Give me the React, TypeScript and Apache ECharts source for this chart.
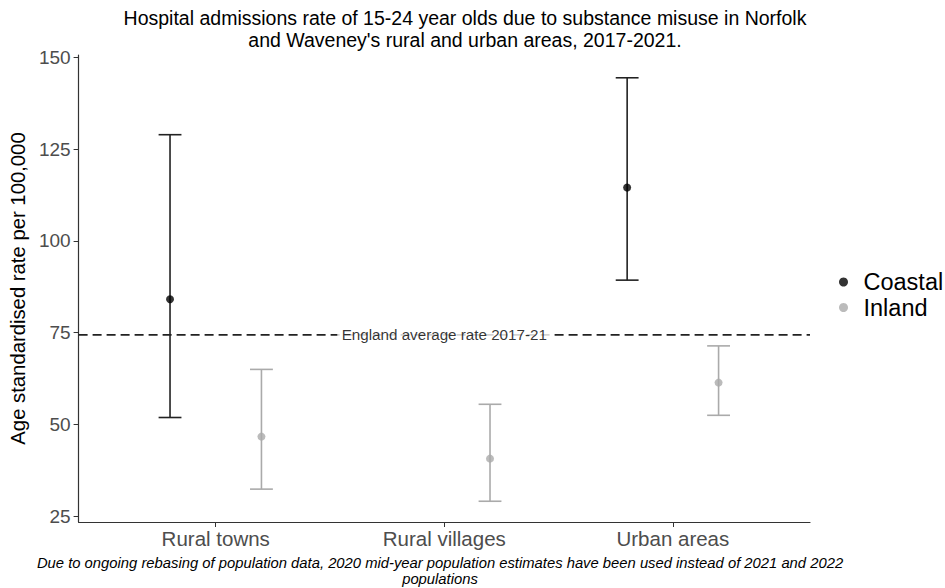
import React, { useEffect, useRef } from "react";
import * as echarts from "echarts";

// Categories and rates (age standardised per 100,000) with 95% confidence limits
const categories = ["Rural towns", "Rural villages", "Urban areas"];
const coastalRate: (number | null)[] = [84.1, null, 114.5];
const coastalLower: (number | null)[] = [51.9, null, 89.3];
const coastalUpper: (number | null)[] = [128.9, null, 144.4];
const inlandRate: number[] = [46.7, 40.7, 61.4];
const inlandLower: number[] = [32.4, 29.1, 52.5];
const inlandUpper: number[] = [65.0, 55.5, 71.4];
const englandAverage = 74.4;
const yTicks = [25, 50, 75, 100, 125, 150];

const FONT = "'Liberation Sans', Arial, sans-serif";
const DODGE = 0.2;
const CAP = 0.1;
const COASTAL = "#000000";
const COASTAL_BAR = "#222222";
const INLAND = "#aaaaaa";

function errorData(lower: (number | null)[], upper: (number | null)[], shift: number) {
  const out: number[][] = [];
  lower.forEach((lo, i) => {
    const hi = upper[i];
    if (lo != null && hi != null) out.push([i + 1 + shift, lo, hi]);
  });
  return out;
}

function pointData(rate: (number | null)[], shift: number) {
  const out: number[][] = [];
  rate.forEach((v, i) => {
    if (v != null) out.push([i + 1 + shift, v]);
  });
  return out;
}

function errorSeries(data: number[][], color: string) {
  return {
    type: "custom",
    silent: true,
    z: 3,
    data,
    encode: { x: 0, y: [1, 2] },
    renderItem: (_params: any, api: any) => {
      const x = api.value(0);
      const lo = api.value(1);
      const hi = api.value(2);
      const top = api.coord([x, hi]);
      const bot = api.coord([x, lo]);
      const half = api.coord([x + CAP / 2, lo])[0] - bot[0];
      const style = { stroke: color, lineWidth: 1.6, fill: "none" };
      return {
        type: "group",
        children: [
          { type: "line", shape: { x1: top[0], y1: top[1], x2: bot[0], y2: bot[1] }, style },
          { type: "line", shape: { x1: top[0] - half, y1: top[1], x2: top[0] + half, y2: top[1] }, style },
          { type: "line", shape: { x1: bot[0] - half, y1: bot[1], x2: bot[0] + half, y2: bot[1] }, style },
        ],
      };
    },
  };
}

export default function App() {
  const ref = useRef<HTMLDivElement>(null);

  useEffect(() => {
    document.body.style.margin = "0";
    if (!ref.current) return;
    const chart = echarts.init(ref.current, null, { renderer: "svg" });

    const option: any = {
      animation: false,
      backgroundColor: "#ffffff",
      textStyle: { fontFamily: FONT },
      grid: { left: 74, right: 135, top: 55, bottom: 66, containLabel: false },
      graphic: [
        {
          type: "text",
          x: 465,
          y: 7,
          style: {
            text:
              "Hospital admissions rate of 15-24 year olds due to substance misuse in Norfolk\nand Waveney's rural and urban areas, 2017-2021.",
            font: `19.5px ${FONT}`,
            fill: "#000000",
            textAlign: "center",
            textVerticalAlign: "top",
            lineHeight: 22,
          },
        },
        {
          type: "text",
          x: 440,
          y: 555,
          style: {
            text:
              "Due to ongoing rebasing of population data, 2020 mid-year population estimates have been used instead of 2021 and 2022\npopulations",
            font: `italic 14.8px ${FONT}`,
            fill: "#000000",
            textAlign: "center",
            textVerticalAlign: "top",
            lineHeight: 16,
          },
        },
      ],
      legend: {
        data: ["Coastal", "Inland"],
        orient: "vertical",
        left: 834,
        top: 265,
        icon: "circle",
        itemWidth: 30,
        itemHeight: 9,
        itemGap: 1.5,
        textStyle: { fontSize: 23.5, color: "#000000", fontFamily: FONT },
      },
      xAxis: {
        type: "value",
        min: 0.4,
        max: 3.6,
        splitLine: { show: false },
        axisLine: { show: true, onZero: false, lineStyle: { color: "#333333", width: 1.2 } },
        axisTick: { show: true, customValues: [1, 2, 3], length: 5, lineStyle: { color: "#333333" } },
        axisLabel: {
          customValues: [1, 2, 3],
          formatter: (v: number) => categories[Math.round(v) - 1] ?? "",
          fontSize: 20.5,
          color: "#4d4d4d",
          margin: 6,
          fontFamily: FONT,
        },
      },
      yAxis: {
        type: "value",
        min: 23.45,
        max: 150.6,
        name: "Age standardised rate per 100,000",
        nameLocation: "middle",
        nameGap: 45,
        nameTextStyle: { fontSize: 20.3, color: "#000000", fontFamily: FONT },
        splitLine: { show: false },
        axisLine: { show: true, lineStyle: { color: "#333333", width: 1.2 } },
        axisTick: { show: true, customValues: yTicks, length: 5, lineStyle: { color: "#333333" } },
        axisLabel: {
          customValues: yTicks,
          fontSize: 19,
          color: "#4d4d4d",
          margin: 8,
          fontFamily: FONT,
        },
      },
      series: [
        {
          type: "line",
          silent: true,
          z: 1,
          symbol: "none",
          data: [
            [0.4, englandAverage],
            [3.6, englandAverage],
          ],
          lineStyle: { color: "#222222", width: 1.6, type: [9, 5] },
        },
        {
          // white box behind the reference-line caption, breaking the dashes
          type: "scatter",
          silent: true,
          z: 10,
          symbol: "rect",
          symbolSize: [214, 14],
          itemStyle: { color: "#ffffff" },
          data: [[2, englandAverage]],
          label: {
            show: true,
            position: "inside",
            formatter: "England average rate 2017-21",
            fontSize: 15.2,
            color: "#000000",
            fontFamily: FONT,
          },
        },
        errorSeries(errorData(coastalLower, coastalUpper, -DODGE), COASTAL_BAR),
        errorSeries(errorData(inlandLower, inlandUpper, DODGE), INLAND),
        {
          name: "Coastal",
          type: "scatter",
          z: 4,
          symbol: "circle",
          symbolSize: 8,
          itemStyle: { color: COASTAL },
          data: pointData(coastalRate, -DODGE),
        },
        {
          name: "Inland",
          type: "scatter",
          z: 4,
          symbol: "circle",
          symbolSize: 8,
          itemStyle: { color: INLAND },
          data: pointData(inlandRate, DODGE),
        },
      ],
    };

    chart.setOption(option);
    return () => chart.dispose();
  }, []);

  return <div ref={ref} style={{ width: 945, height: 588 }} />;
}
